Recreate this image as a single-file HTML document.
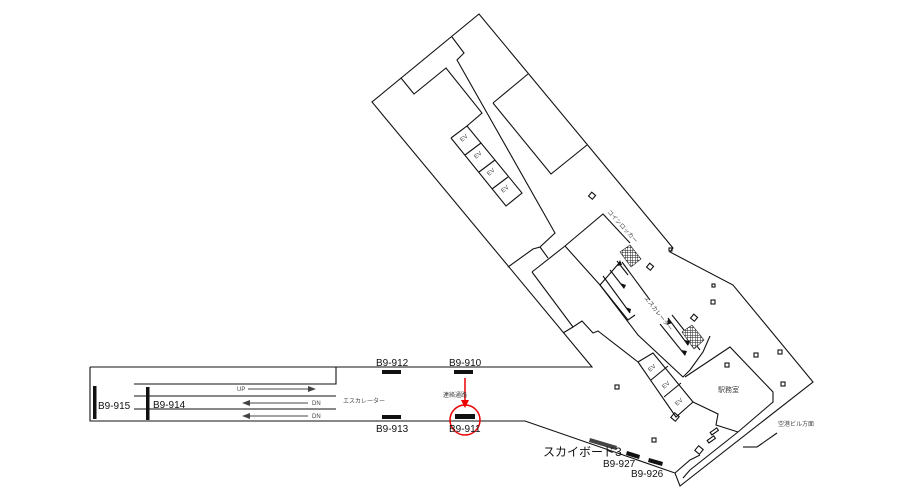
<!DOCTYPE html>
<html><head><meta charset="utf-8"><style>
html,body{margin:0;padding:0;background:#fff;}
svg{display:block;}
text{font-family:"Liberation Sans","Noto Sans CJK JP",sans-serif;}
</style></head><body>
<svg width="919" height="491" viewBox="0 0 919 491" xmlns="http://www.w3.org/2000/svg">
<defs>
<pattern id="h" width="2.5" height="2.5" patternUnits="userSpaceOnUse"><rect width="3" height="3" fill="#fff"/><path d="M0 0H3M0 0V3" stroke="#222" stroke-width="1"/></pattern>
</defs>
<g fill="none" stroke="#111" stroke-width="1.1">
<polyline points="90,367 592,367 372,102 479,14 673,248 670,252 733,285 813,382 680,486 675,473 525,421 90,421 90,367"/>
<polyline points="452,37 464,53 457,60 555,233 540,247 533,249 508,267"/>
<polyline points="540,247 548,258"/>
<polyline points="401,78 414,94 446,68 482,113 467,126"/>
<polyline points="493,103 528,74"/>
<polyline points="493,103 551,174 587,145"/>
<polyline points="451,138 467,126 522,193 506,206 451,138"/>
<line x1="465" y1="155" x2="481" y2="143"/><line x1="479" y1="172" x2="495" y2="160"/><line x1="492" y1="189" x2="508" y2="177"/>
<!-- escalator block -->
<polyline points="532,272 565,246 603,214 630,243"/>
<polyline points="565,246 600,285 628,320 635,315"/>
<polyline points="532,272 573,327 582,321 593,333 598,331 638,362"/>
<polyline points="563,333 573,327"/>
<polyline points="600,285 620,262"/>
<polyline points="600,285 638,335 683,377 690,370 703,352 710,336"/>
<!-- EV lower -->
<polyline points="638,362 653,353 693,402 676,417 638,362"/>
<line x1="651" y1="380" x2="668" y2="366"/><line x1="664" y1="397" x2="681" y2="383"/>
<polyline points="693,402 718,414 716,425 738,432"/>
<polyline points="685,377 730,347 773,392 773,402 738,432"/>
<polyline points="738,432 690,470 683,478"/>
<polyline points="675,473 690,460 700,455"/>
<!-- escalator rails -->
<line x1="603" y1="276" x2="630" y2="313"/><line x1="610" y1="270" x2="624" y2="288"/>
<line x1="617" y1="261" x2="628" y2="275"/>
<line x1="622" y1="262" x2="650" y2="300"/>
<line x1="660" y1="324" x2="685" y2="355"/><line x1="668" y1="318" x2="688" y2="345"/>
<line x1="672" y1="315" x2="700" y2="350"/>
<line x1="743" y1="447" x2="757" y2="447"/><line x1="757" y1="447" x2="777" y2="433"/>
<polyline points="134,384 336,384 336,367"/>
<line x1="134" y1="396" x2="336" y2="396"/><line x1="134" y1="409" x2="336" y2="409"/>
<line x1="248" y1="389" x2="314" y2="389" stroke="#444"/>
<line x1="246" y1="403" x2="308" y2="403" stroke="#444"/>
<line x1="246" y1="416" x2="308" y2="416" stroke="#444"/>
<rect x="590" y="193" width="5" height="5" transform="rotate(40 592 195)"/>
<rect x="648" y="264" width="5" height="5" transform="rotate(40 650 266)"/>
<rect x="692" y="315" width="5" height="5" transform="rotate(40 694 317)"/>
<rect x="711" y="300" width="4" height="4"/><rect x="615" y="385" width="4" height="4"/>
<rect x="754" y="353" width="4" height="4"/><rect x="781" y="382" width="4" height="4"/>
<rect x="778" y="350" width="4" height="4"/><rect x="725" y="363" width="4" height="4"/>
<rect x="669" y="248" width="3" height="3"/><rect x="712" y="284" width="3" height="3"/>
<rect x="652" y="438" width="4" height="4"/><rect x="710" y="430" width="8" height="3" transform="rotate(-35 714 431)"/>
<rect x="707" y="438" width="8" height="3" transform="rotate(-35 711 439)"/>
<rect x="696" y="447" width="6" height="6" transform="rotate(40 699 450)"/>
<rect x="672" y="414" width="6" height="6" transform="rotate(40 675 417)"/>
</g>
<polygon points="620,252 630,245 641,259 631,267" fill="url(#h)" stroke="#222" stroke-width="0.6"/>
<polygon points="682,332 692,325 704,340 694,349" fill="url(#h)" stroke="#222" stroke-width="0.6"/>
<g fill="#111">
<polygon points="620,260 617,266 622,265"/>
<polygon points="624,289 620,283 626,285"/>
<polygon points="630,313 625,307 631,309"/>
<polygon points="688,346 684,340 690,341"/>
<polygon points="668,319 667,325 672,323"/>
<polygon points="685,356 681,350 687,351"/>
</g>
<g fill="#444">
<polygon points="316,389 308,386 308,392"/>
<polygon points="242,403 250,400 250,406"/>
<polygon points="242,416 250,413 250,419"/>
</g>
<g fill="#111">
<rect x="93" y="386" width="3.5" height="33"/>
<rect x="146" y="387" width="3.5" height="33"/>
<rect x="382" y="370" width="19" height="4"/>
<rect x="454" y="370" width="19" height="4"/>
<rect x="382" y="415" width="19" height="4"/>
<rect x="455" y="414" width="20" height="5"/>
<polygon points="590,438 617,446 616,450 589,442" fill="#444"/>
<polygon points="627,451 640,455 639,459 626,455"/>
<polygon points="649,458 663,462 662,466 648,462"/>
</g>
<line x1="465" y1="378" x2="465" y2="402" stroke="#e00" stroke-width="1.5"/>
<polygon points="465,408 461,400 469,400" fill="#e00"/>
<circle cx="465" cy="420" r="15" fill="none" stroke="#e00" stroke-width="1.5"/>
<g font-size="10" fill="#111">
<text x="98" y="409">B9-915</text>
<text x="153" y="408">B9-914</text>
<text x="376" y="366">B9-912</text>
<text x="449" y="366">B9-910</text>
<text x="376" y="432">B9-913</text>
<text x="449" y="432">B9-911</text>
<text x="543" y="456" font-size="12">スカイボード3</text>
<text x="603" y="467">B9-927</text>
<text x="631" y="477">B9-926</text>
</g>
<g font-size="6" fill="#444">
<text x="237" y="391">UP</text>
<text x="312" y="405">DN</text>
<text x="312" y="418">DN</text>
<text x="343" y="403">エスカレーター</text>
<text x="443" y="397">連絡通路</text>
<text x="718" y="392" font-size="7">駅務室</text>
<text x="778" y="426">空港ビル方面</text>
<text x="607" y="212" transform="rotate(48 607 212)">コインロッカー</text>
<text x="644" y="298" transform="rotate(52 644 298)">エスカレーター</text>
<text x="462" y="142" transform="rotate(-40 462 142)">EV</text>
<text x="476" y="159" transform="rotate(-40 476 159)">EV</text>
<text x="489" y="176" transform="rotate(-40 489 176)">EV</text>
<text x="503" y="193" transform="rotate(-40 503 193)">EV</text>
<text x="650" y="372" transform="rotate(-40 650 372)">EV</text>
<text x="664" y="389" transform="rotate(-40 664 389)">EV</text>
<text x="677" y="406" transform="rotate(-40 677 406)">EV</text>
</g>
</svg>
</body></html>
